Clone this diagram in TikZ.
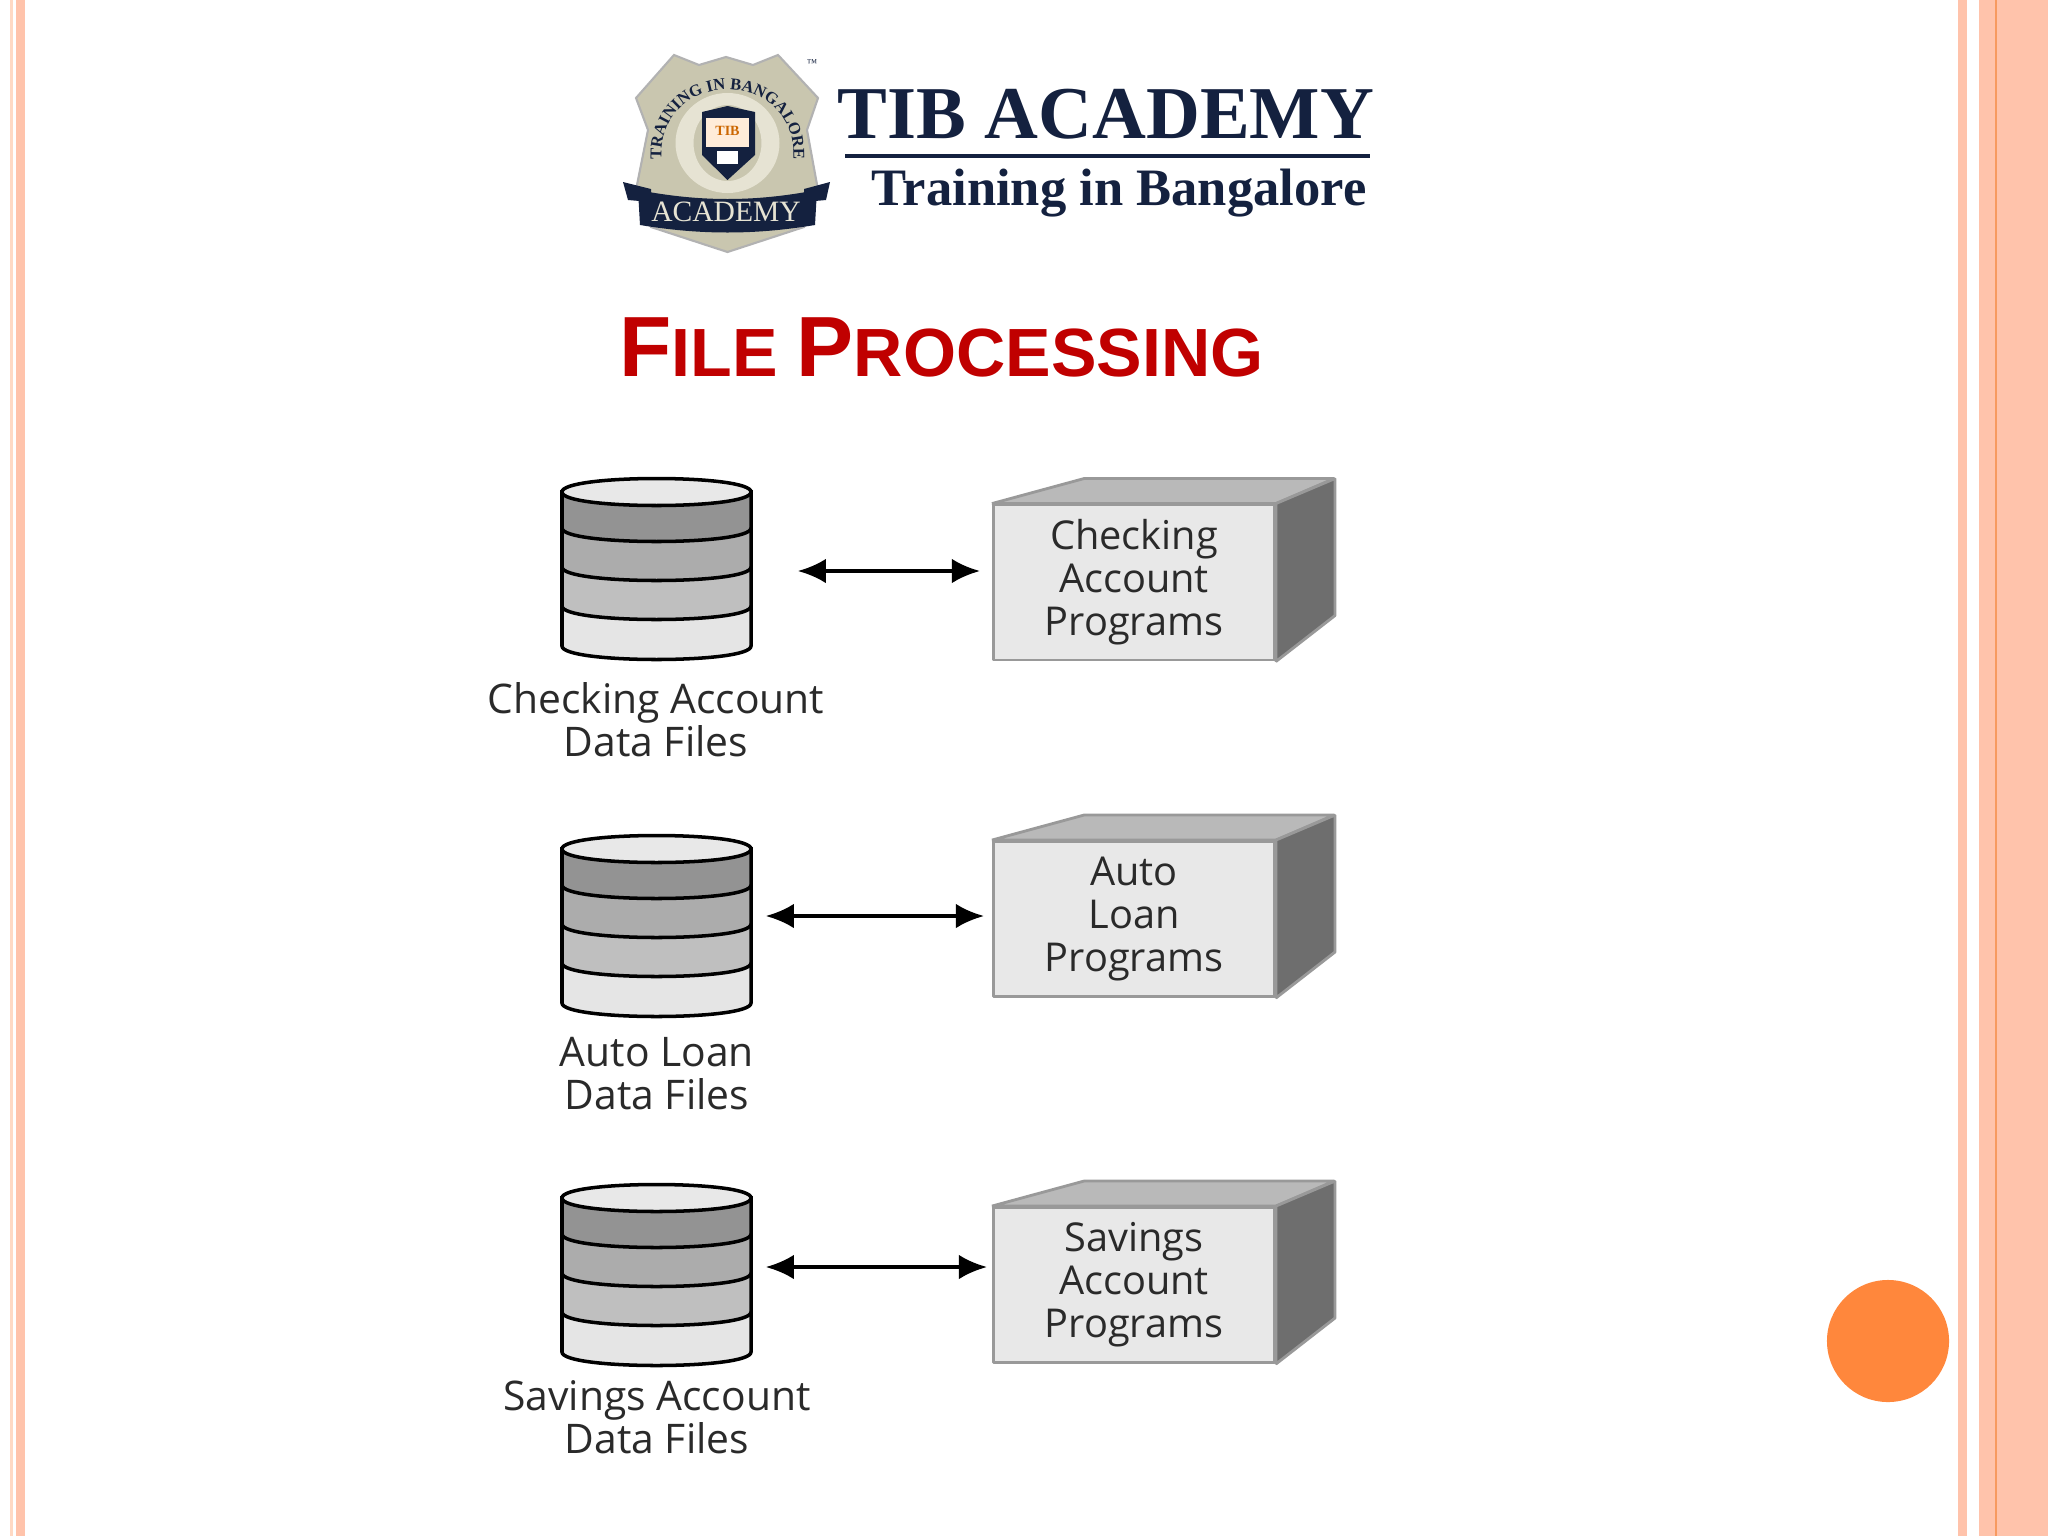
\documentclass[tikz,border=0pt]{standalone}
\usepackage{fontspec}
\usetikzlibrary{arrows.meta,decorations.text}
\setmainfont{Liberation Serif}
\newfontfamily\titlefont{Liberation Sans}
\newfontfamily\labelfont{Open Sans}
\definecolor{peach}{HTML}{FFC3AB}
\definecolor{peachlight}{HTML}{FFD9C4}
\definecolor{stripeorange}{HTML}{F79A60}
\definecolor{dotorange}{HTML}{FF873C}
\definecolor{titlered}{HTML}{C00000}
\definecolor{navy}{HTML}{14213F}
\definecolor{badge}{HTML}{C9C6AF}
\definecolor{wreath}{HTML}{E6E3D3}
\definecolor{labelgray}{HTML}{2A2A2A}
\tikzset{
	stackline/.style={draw=black,line width=1pt},
	progbox/.style={draw=gray!80,line width=.8pt,line join=bevel,fill=gray!18,minimum width=2.81cm,minimum height=1.55cm,inner sep=0pt,align=center,text=labelgray,font=\labelfont\fontsize{11.3}{12.2}\selectfont},
	progtop/.style={draw=gray!80,line width=.8pt,line join=bevel,fill=gray!55},
	progside/.style={draw=gray!80,line width=.8pt,line join=bevel,fill=black!57},
	stacktext/.style={inner sep=0pt,align=center,text=labelgray,font=\labelfont\fontsize{11.6}{12.2}\selectfont},
	stackspot/.style={inner sep=0pt,minimum width=1.89cm,minimum height=0pt},
	biarrow/.style={{Latex[length=8pt,width=7pt]}-{Latex[length=8pt,width=7pt]},line width=1.1pt}
}
% one band of a cylinder, from the lid down to its lower edge
\newcommand{\stackband}[2]{\filldraw[stackline,fill=#1] (562,491) -- (562,#2) .. controls (562,#2+18) and (751,#2+18) .. (751,#2) -- (751,491) -- cycle;}
\newcommand{\datastack}[2]{
	\begin{scope}[shift={(0,#1)}]
		\stackband{gray!20}{645}
		\stackband{gray!50}{605}
		\stackband{gray!65}{566}
		\stackband{gray!85}{527}
		\filldraw[stackline,fill=#2] (562,491) .. controls (562,473) and (751,473) .. (751,491) .. controls (751,509) and (562,509) .. (562,491) -- cycle;
	\end{scope}
}
\begin{document}
\begin{tikzpicture}[x=.01cm,y=-.01cm]
	\useasboundingbox (0,0) rectangle (2048,1536);
	\fill[white] (0,0) rectangle (2048,1536);
	% page stripes
	\fill[peachlight] (10,0) rectangle (13,1536);
	\fill[peach] (16,0) rectangle (25,1536);
	\fill[peach] (1958,0) rectangle (1967,1536);
	\fill[peach] (1979,0) rectangle (2048,1536);
	\fill[stripeorange] (1995,0) rectangle (1997,1536);
	\fill[dotorange] (1888,1341) circle (.61cm);
	% logo
	\filldraw[fill=badge,draw=gray!60,line width=.6pt] (674,55) -- (699,65) -- (726,57) -- (753,65) -- (778,55) -- (818,98) -- (807,130) -- (818,190) -- (804,227) -- (727.5,252) -- (651,227) -- (636,190) -- (648,130) -- (636,98) -- cycle;
	\fill[wreath,even odd rule] (727.5,143) ellipse (52 and 50) (727.5,143) ellipse (34 and 38);
	\fill[navy] (702,112) -- (727.5,106) -- (755,112) -- (755,155) -- (727.5,180) -- (702,155) -- cycle;
	\fill[orange!15] (706,118) -- (749,118) -- (749,147) -- (706,147) -- cycle;
	\fill[white] (717,151) rectangle (738,164);
	\node[inner sep=0pt,text=orange!80!black,font=\bfseries\fontsize{4}{4}\selectfont] (crest) at (727.5,131) {TIB};
	\path[decorate,decoration={text along path,text align=center,text={|\color{navy}\bfseries\fontsize{4.7}{6}\selectfont|TRAINING IN BANGALORE}}] (664,178) .. controls (638,60) and (817,60) .. (791,178);
	\fill[navy] (623,182) -- (651,189) -- (651,202) -- (628,200) -- cycle;
	\fill[navy] (830,182) -- (804,189) -- (804,202) -- (826,200) -- cycle;
	\fill[navy] (638,190) .. controls (700,202) and (755,202) .. (817,190) -- (815,225) .. controls (755,235) and (700,235) .. (640,225) -- cycle;
	\node[inner sep=0pt,text=wreath,font=\fontsize{8.4}{9}\selectfont] (banner) at (726,212) {ACADEMY};
	\node[inner sep=0pt,text=navy,font=\fontsize{3}{3}\selectfont] (tm) at (812,63) {™};
	\node[anchor=base,inner sep=0pt,text=navy,font=\bfseries\fontsize{21.2}{24}\selectfont] (brand) at (1106,138) {TIB ACADEMY};
	\draw[navy,line width=1.1pt] (845,156) -- (1370,156);
	\node[anchor=base,inner sep=0pt,text=navy,font=\bfseries\fontsize{14.95}{16}\selectfont] (slogan) at (1119,205) {Training in Bangalore};
	% title
	\node[anchor=base west,inner sep=0pt,text=titlered,font=\titlefont\bfseries] (title) at (619,376) {\fontsize{24.3}{28}\selectfont F\fontsize{19.4}{28}\selectfont ILE \fontsize{24.3}{28}\selectfont P\fontsize{19.4}{28}\selectfont ROCESSING};
	% cylinders
	\datastack{1}{gray!18}
	\datastack{358}{gray!18}
	\datastack{707}{gray!18}
	\node[stackspot] (cyl1) at (656.5,571) {};
	\node[stackspot] (cyl2) at (656.5,916) {};
	\node[stackspot] (cyl3) at (656.5,1267) {};
	\node[stacktext] (text1) at (656,720) {Checking Account\\Data Files};
	\node[stacktext] (text2) at (657,1074) {Auto Loan\\Data Files};
	\node[stacktext] (text3) at (657,1417) {Savings Account\\Data Files};
	% program boxes
	\node[progbox] (prog1) at (1134,582.5) {Checking\\Account\\Programs};
	\node[progbox] (prog2) at (1134,919) {Auto\\Loan\\Programs};
	\node[progbox] (prog3) at (1134,1285) {Savings\\Account\\Programs};
	\filldraw[progtop] (prog1.north west) -- ++(92,-25) -- ++(250,0) -- (prog1.north east) -- cycle;
	\filldraw[progtop] (prog2.north west) -- ++(92,-25) -- ++(250,0) -- (prog2.north east) -- cycle;
	\filldraw[progtop] (prog3.north west) -- ++(92,-25) -- ++(250,0) -- (prog3.north east) -- cycle;
	\filldraw[progside] (prog1.north east) -- ++(59,-25) -- ++(0,137) -- (prog1.south east) -- cycle;
	\filldraw[progside] (prog2.north east) -- ++(59,-25) -- ++(0,137) -- (prog2.south east) -- cycle;
	\filldraw[progside] (prog3.north east) -- ++(59,-25) -- ++(0,137) -- (prog3.south east) -- cycle;
	% arrows
	\draw[biarrow,shorten <=.46cm,shorten >=.12cm] (cyl1.east) -- (cyl1.east -| prog1.west);
	\draw[biarrow,shorten <=.14cm,shorten >=.08cm] (cyl2.east) -- (cyl2.east -| prog2.west);
	\draw[biarrow,shorten <=.14cm,shorten >=.05cm] (cyl3.east) -- (cyl3.east -| prog3.west);
\end{tikzpicture}
\end{document}
